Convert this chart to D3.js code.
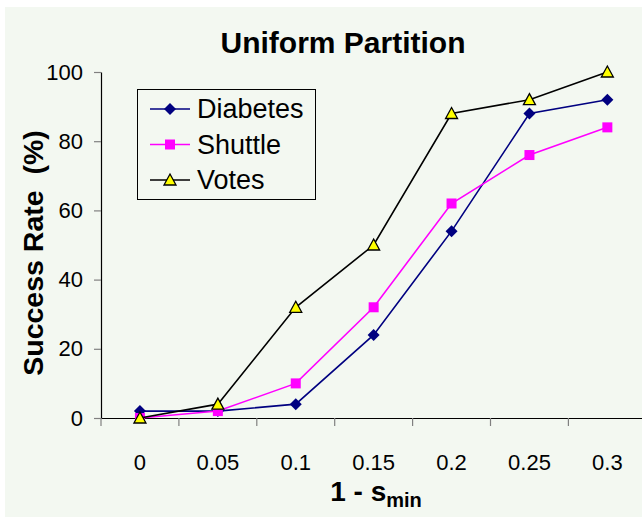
<!DOCTYPE html>
<html><head><meta charset="utf-8">
<script src="https://cdn.jsdelivr.net/npm/d3@7"></script>
<style>
html,body{margin:0;padding:0;background:#fff;}
svg{display:block;font-family:"Liberation Sans",Arial,sans-serif;}
</style></head>
<body><svg id="c" width="642" height="517"></svg>
<script>
const categories = ["0","0.05","0.1","0.15","0.2","0.25","0.3"];
const diabetes = [2, 2, 4, 24, 54, 88, 92];
const shuttle  = [0, 2, 10, 32, 62, 76, 84];
const votes    = [0, 4, 32, 50, 88, 92, 100];
const yTicks   = [0, 20, 40, 60, 80, 100];
const seriesNames = ["Diabetes", "Shuttle", "Votes"];

const svg = d3.select("#c");
svg.append("rect").attr("x",5).attr("y",7).attr("width",637).attr("height",510).attr("fill","#f3f8f1");

const x = d3.scaleBand().domain(categories).range([101, 646.3]).padding(0);
const y = d3.scaleLinear().domain([0,100]).range([418, 72]);
const cx = d => x(d) + x.bandwidth()/2;

// title
svg.append("text").attr("x",343).attr("y",53).attr("text-anchor","middle")
  .attr("font-weight","bold").attr("font-size",30).text("Uniform Partition");

// y axis
const ya = svg.append("g").attr("transform","translate(101,0)")
  .call(d3.axisLeft(y).tickValues(yTicks).tickSize(7).tickPadding(11).tickSizeOuter(0));
ya.select(".domain").attr("stroke","#000").attr("stroke-width",1.2);
ya.selectAll(".tick line").attr("stroke","#808080").attr("stroke-width",1.2);
ya.selectAll(".tick text").attr("font-size",22).attr("fill","#000").attr("font-family","Liberation Sans, Arial, sans-serif");

// x axis
const xa = svg.append("g").attr("transform","translate(0,418)")
  .call(d3.axisBottom(x).tickSize(0).tickPadding(36).tickSizeOuter(0));
xa.select(".domain").attr("stroke","#000").attr("stroke-width",1.2);
xa.selectAll(".tick text").attr("font-size",22).attr("fill","#000").attr("font-family","Liberation Sans, Arial, sans-serif");
// band boundary ticks
const bounds = categories.map(c => x(c)).concat([x(categories[categories.length-1]) + x.bandwidth()]);
xa.selectAll(".btick").data(bounds).enter().append("line").attr("class","btick")
  .attr("x1",d=>d).attr("x2",d=>d).attr("y1",0).attr("y2",8)
  .attr("stroke","#808080").attr("stroke-width",1.2);

// y label
svg.append("text").attr("transform","translate(43,253) rotate(-90)").attr("text-anchor","middle")
  .attr("font-weight","bold").attr("font-size",28.5).attr("xml:space","preserve").text("Success Rate  (%)");

// x label
const xl = svg.append("text").attr("x",376).attr("y",501).attr("text-anchor","middle").attr("font-weight","bold").attr("font-size",28);
xl.append("tspan").text("1 - s");
xl.append("tspan").attr("font-size",20).attr("dy",6).text("min");

const lineGen = d3.line().x((d,i)=>cx(categories[i])).y(d=>y(d));

function drawSeries(vals, color, markerFn){
  svg.append("path").datum(vals).attr("d", lineGen).attr("fill","none").attr("stroke",color).attr("stroke-width",1.6);
  vals.forEach((v,i)=> markerFn(svg, cx(categories[i]), y(v)));
}
const diamond = (g,px,py)=> g.append("path").attr("d",`M${px},${py-6}L${px+6},${py}L${px},${py+6}L${px-6},${py}Z`).attr("fill","#000080");
const square = (g,px,py)=> g.append("rect").attr("x",px-5).attr("y",py-5).attr("width",10).attr("height",10).attr("fill","#ff00ff");
const tri = (g,px,py)=> g.append("path").attr("d",`M${px},${py-6}L${px+6},${py+5}L${px-6},${py+5}Z`).attr("fill","#ffff00").attr("stroke","#000").attr("stroke-width",1.3);

drawSeries(diabetes, "#000080", diamond);
drawSeries(shuttle, "#ff00ff", square);
drawSeries(votes, "#000000", tri);

// legend
const lg = svg.append("g");
lg.append("rect").attr("x",137.5).attr("y",89.5).attr("width",178).attr("height",110).attr("fill","none").attr("stroke","#000").attr("stroke-width",1);
const colors = ["#000080","#ff00ff","#000000"];
const markers = [diamond, square, tri];
seriesNames.forEach((n,i)=>{
  const yy = 109 + i*35.5;
  lg.append("line").attr("x1",150).attr("x2",190).attr("y1",yy).attr("y2",yy).attr("stroke",colors[i]).attr("stroke-width",1.6);
  markers[i](lg,170,yy);
  lg.append("text").attr("x",197).attr("y",yy+9).attr("font-size",27).text(n);
});
</script></body></html>
